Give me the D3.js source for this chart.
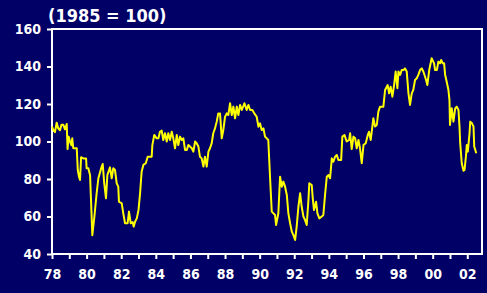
<!DOCTYPE html>
<html>
<head>
<meta charset="utf-8">
<script src="https://cdn.jsdelivr.net/npm/d3@7"></script>
<style>
    html, body { margin: 0; padding: 0; background: #000066; }
    svg { display: block; }
    .axis text { fill: #ffffff; font-family: "DejaVu Sans Condensed", "DejaVu Sans", sans-serif; font-weight: bold; font-size: 14px; }
    .axis line { stroke: #ffffff; stroke-width: 2px; }
</style>
</head>
<body>
<div class="container"></div>
<script>
// DATA (decimal year, index with 1985 = 100)
const months = [
    1978.00, 1978.08, 1978.17, 1978.27, 1978.36, 1978.46, 1978.55, 1978.65, 1978.75, 1978.85,
    1978.90, 1978.96, 1979.04, 1979.13, 1979.17, 1979.23, 1979.43, 1979.49, 1979.56, 1979.62,
    1979.68, 1979.81, 1979.97, 1980.00, 1980.10, 1980.20, 1980.28, 1980.33, 1980.45, 1980.58,
    1980.68, 1980.87, 1980.93, 1981.02, 1981.12, 1981.20, 1981.35, 1981.45, 1981.54, 1981.64,
    1981.74, 1981.83, 1981.87, 1982.03, 1982.12, 1982.22, 1982.37, 1982.45, 1982.55, 1982.66,
    1982.72, 1982.80, 1982.90, 1983.00, 1983.09, 1983.18, 1983.28, 1983.42, 1983.53, 1983.76,
    1983.80, 1983.91, 1984.05, 1984.15, 1984.24, 1984.34, 1984.43, 1984.53, 1984.63, 1984.72,
    1984.82, 1984.92, 1985.01, 1985.11, 1985.21, 1985.30, 1985.40, 1985.50, 1985.59, 1985.69,
    1985.79, 1985.88, 1986.08, 1986.17, 1986.27, 1986.36, 1986.46, 1986.55, 1986.65, 1986.75,
    1986.84, 1986.94, 1987.04, 1987.13, 1987.23, 1987.32, 1987.42, 1987.52, 1987.61, 1987.71,
    1987.81, 1987.90, 1988.00, 1988.10, 1988.19, 1988.29, 1988.39, 1988.48, 1988.58, 1988.68,
    1988.77, 1988.87, 1988.97, 1989.12, 1989.25, 1989.35, 1989.45, 1989.58, 1989.69, 1989.83,
    1989.93, 1990.02, 1990.12, 1990.22, 1990.31, 1990.41, 1990.50, 1990.60, 1990.70, 1990.89,
    1990.95, 1991.08, 1991.18, 1991.28, 1991.37, 1991.47, 1991.57, 1991.66, 1991.76, 1991.86,
    1991.95, 1992.05, 1992.14, 1992.24, 1992.34, 1992.43, 1992.53, 1992.62, 1992.72, 1992.82,
    1992.87, 1993.01, 1993.07, 1993.14, 1993.26, 1993.34, 1993.45, 1993.59, 1993.68, 1993.78,
    1993.88, 1993.97, 1994.07, 1994.17, 1994.26, 1994.36, 1994.46, 1994.55, 1994.71, 1994.78,
    1994.90, 1995.03, 1995.17, 1995.23, 1995.32, 1995.42, 1995.52, 1995.61, 1995.71, 1995.80,
    1995.90, 1996.00, 1996.13, 1996.25, 1996.32, 1996.42, 1996.57, 1996.67, 1996.77, 1996.86,
    1996.96, 1997.15, 1997.25, 1997.40, 1997.48, 1997.57, 1997.67, 1997.77, 1997.86, 1997.96,
    1998.02, 1998.12, 1998.21, 1998.31, 1998.40, 1998.50, 1998.60, 1998.69, 1998.79, 1998.88,
    1998.98, 1999.08, 1999.17, 1999.27, 1999.37, 1999.46, 1999.62, 1999.69, 1999.80, 1999.94,
    2000.08, 2000.14, 2000.24, 2000.33, 2000.43, 2000.49, 2000.58, 2000.66, 2000.72, 2000.81,
    2000.91, 2000.97, 2001.00, 2001.10, 2001.20, 2001.30, 2001.39, 2001.49, 2001.55, 2001.59,
    2001.68, 2001.78, 2001.84, 2001.92, 2001.97, 2002.03, 2002.13, 2002.17, 2002.27, 2002.36,
    2002.40, 2002.52
];

const index = [
    108, 106, 105, 110, 107, 106, 109, 109, 106.5, 109.3,
    96, 102.6, 100, 98, 101.7, 96.4, 96.4, 84.8, 81.2, 79.5,
    91.6, 91, 91, 85.7, 85.7, 82, 62.6, 50, 60, 72.4,
    80.4, 86.6, 88, 77.7, 69.7, 82.1, 86.2, 80.4, 85.7, 84.8,
    77.7, 75.9, 67.9, 67, 61.7, 56.4, 56.4, 62.6, 56.4, 57,
    54.6, 57.2, 59, 63.5, 72.4, 83.9, 87.5, 88.4, 91.9, 91.9,
    98.1, 103.5, 101.7, 101.7, 105.2, 105.8, 100.8, 104.4, 100, 104.4,
    100.8, 105.2, 101.7, 96.4, 103.5, 98.1, 102.6, 100.8, 101.7, 95.5,
    95.5, 98.1, 96.4, 94.6, 100, 99.1, 97.3, 91.9, 91, 86.6,
    91.9, 86.6, 94.6, 96.4, 99.1, 104.4, 107, 110.6, 115, 115,
    101.7, 106.1, 113.2, 115, 114.1, 120.4, 114.1, 118.6, 112.4, 118.6,
    114.1, 119.5, 116.8, 120.4, 116.8, 119.5, 116.8, 116.8, 115, 113.2,
    107.9, 109.7, 106.1, 107, 102.6, 101.7, 100.8, 81.2, 62.6, 60.8,
    55.5, 61.7, 81.2, 75.9, 78.6, 75.9, 71.5, 61.7, 56.4, 51.9,
    50.1, 47.5, 54.6, 65.2, 72.4, 65.2, 60, 58.2, 55.5, 68.8,
    77.7, 76.8, 69.7, 63.5, 67.9, 61.7, 59, 60, 60.8, 71.5,
    81.2, 82.1, 80.4, 91, 89.2, 91.9, 92.8, 90.1, 90.1, 102.6,
    103.5, 100, 100.8, 104.4, 96, 102.6, 101.7, 96.4, 100.8, 96.4,
    88.4, 98.1, 99.1, 103.5, 105.2, 100.8, 112.4, 108, 108.8, 115.9,
    118.6, 118.6, 127.5, 130.1, 125.7, 129.2, 123.9, 130.1, 137.3, 128.4,
    137.3, 135.5, 138.1, 138.1, 139, 137.3, 125.7, 119.5, 125.7, 127.5,
    132.8, 133.7, 135.5, 138.1, 139, 137.3, 132.8, 130.1, 138.1, 144.4,
    141.7, 138.1, 138.1, 142.6, 141.7, 143.5, 141.7, 141.7, 135.5, 131.9,
    127.5, 122.1, 108.8, 117.7, 110.6, 117.7, 118.6, 116.8, 107.9, 99.1,
    88.4, 84.4, 84.8, 91.9, 98.1, 94.6, 104.4, 110.6, 109.7, 107.9,
    97.3, 93.7
];

// tick values for the axes
const yTicks = [40, 60, 80, 100, 120, 140, 160];
const xTicks = d3.range(1978, 2003);
const xLabelYears = d3.range(1978, 2003, 2);

const series = months.map((m, i) => ({ date: m, value: index[i] }));

const margin = {
    top: 29,
    right: 5,
    bottom: 39,
    left: 52
};

const width = 487 - margin.left - margin.right,
    height = 293 - margin.top - margin.bottom;

const svg = d3.select(".container")
    .append("svg")
    .attr("width", 487)
    .attr("height", 293);

svg
    .append("rect")
    .attr("width", 487)
    .attr("height", 293)
    .attr("fill", "#000066");

// title, top left above the plot
svg
    .append("text")
    .attr("x", 48)
    .attr("y", 22)
    .attr("fill", "#ffffff")
    .style("font-family", "'DejaVu Sans Condensed', 'DejaVu Sans', sans-serif")
    .style("font-weight", "bold")
    .style("font-size", "18px")
    .text("(1985 = 100)");

const chart = svg
    .append("g")
    .attr("transform", `translate(${margin.left}, ${margin.top})`);

// SCALES
const xScale = d3
    .scaleLinear()
    .domain([1978, 2002.85])
    .range([0, width]);

const yScale = d3
    .scaleLinear()
    .domain([40, 160])
    .range([height, 0]);

// AXES
const xAxis = d3
    .axisBottom(xScale)
    .tickValues(xTicks)
    .tickSize(5)
    .tickSizeOuter(0)
    .tickPadding(10)
    .tickFormat(d => xLabelYears.includes(d) ? String(d % 100).padStart(2, "0") : "");

const yAxis = d3
    .axisLeft(yScale)
    .tickValues(yTicks)
    .tickSize(5)
    .tickSizeOuter(0)
    .tickPadding(6);

chart
    .append("g")
    .attr("class", "axis")
    .attr("transform", `translate(0, ${height})`)
    .call(xAxis)
    .call(g => g.select(".domain").remove());

chart
    .append("g")
    .attr("class", "axis")
    .call(yAxis)
    .call(g => g.select(".domain").remove());

// white frame round the plot
chart
    .append("rect")
    .attr("x", 0)
    .attr("y", 0)
    .attr("width", width)
    .attr("height", height)
    .attr("fill", "none")
    .attr("stroke", "#ffffff")
    .attr("stroke-width", 2);

// LINE
const line = d3
    .line()
    .x(d => xScale(d.date))
    .y(d => yScale(d.value));

chart
    .append("path")
    .datum(series)
    .attr("fill", "none")
    .attr("stroke", "#ffff00")
    .attr("stroke-width", 2)
    .attr("stroke-linejoin", "round")
    .attr("d", line);
</script>
</body>
</html>
